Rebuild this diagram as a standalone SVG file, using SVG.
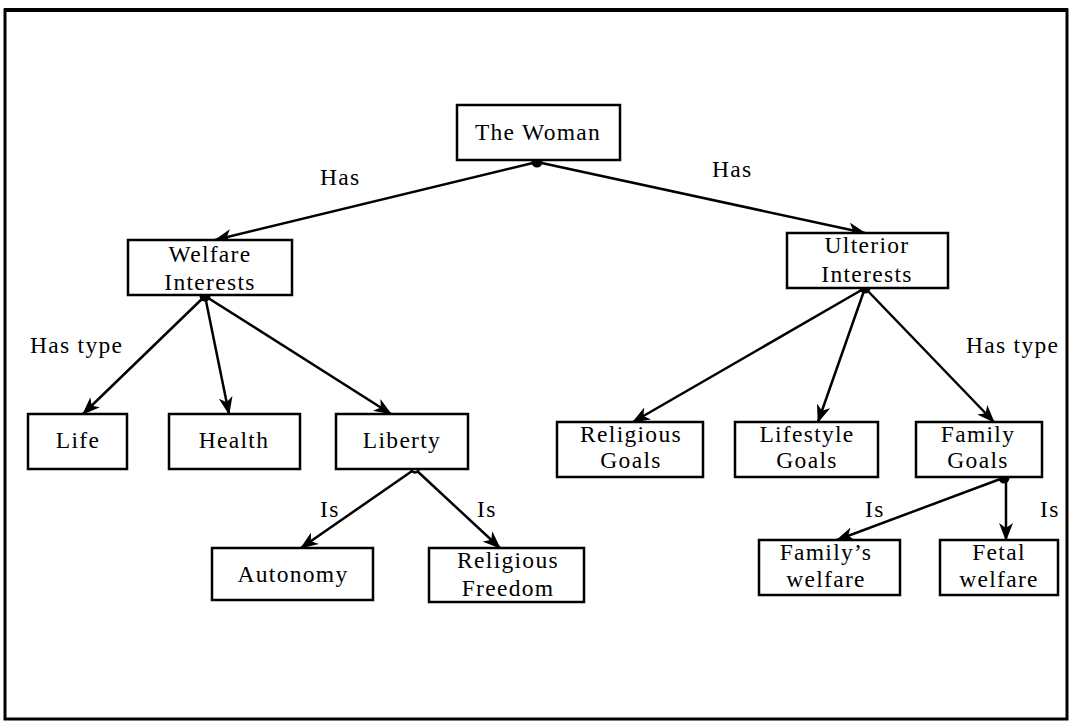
<svg xmlns="http://www.w3.org/2000/svg" width="1071" height="721" viewBox="0 0 1071 721">
<defs>
<style>
.box{fill:#fff;stroke:#000;stroke-width:2.5}
.t{font-family:"Liberation Serif","Times New Roman",serif;font-size:23.5px;letter-spacing:1.3px;fill:#000;text-anchor:middle}
.lbl{font-family:"Liberation Serif","Times New Roman",serif;font-size:23.5px;letter-spacing:1.3px;fill:#000}
.edge{stroke:#000;stroke-width:2.5;fill:none;marker-end:url(#arr)}
.dot{fill:#000}
</style>
<marker id="arr" viewBox="0 0 18 14" refX="17" refY="7" markerWidth="18" markerHeight="14" markerUnits="userSpaceOnUse" orient="auto">
<path d="M0,0 L18,7 L0,14 L5,7 Z" fill="#000"/>
</marker>
</defs>
<rect width="1071" height="721" fill="#fff"/>
<rect x="5" y="10" width="1062" height="709" fill="none" stroke="#000" stroke-width="3"/>
<line x1="4" y1="10" x2="1068" y2="10" stroke="#000" stroke-width="4"/>

<g id="connectors">
<line class="edge" x1="537" y1="162" x2="215" y2="240"/>
<line class="edge" x1="537" y1="162" x2="865" y2="233"/>
<line class="edge" x1="205" y1="296" x2="83" y2="414"/>
<line class="edge" x1="205" y1="296" x2="229" y2="414"/>
<line class="edge" x1="205" y1="296" x2="391" y2="414"/>
<line class="edge" x1="415" y1="469" x2="301" y2="548"/>
<line class="edge" x1="415" y1="469" x2="500" y2="548"/>
<line class="edge" x1="865" y1="288" x2="633" y2="422"/>
<line class="edge" x1="865" y1="288" x2="818" y2="422"/>
<line class="edge" x1="865" y1="288" x2="994" y2="422"/>
<line class="edge" x1="1003" y1="478" x2="837" y2="540"/>
<line class="edge" x1="1006" y1="478" x2="1006" y2="540"/>
<circle class="dot" cx="537" cy="162" r="5.5"/>
<circle class="dot" cx="205" cy="296" r="5.5"/>
<circle class="dot" cx="865" cy="288" r="5.5"/>
<circle cx="415" cy="469" r="3.5" fill="#fff" stroke="#000" stroke-width="2.5"/>
<circle class="dot" cx="1004" cy="478" r="5.5"/>
<text class="lbl" x="320" y="185">Has</text>
<text class="lbl" x="712" y="177">Has</text>
<text class="lbl" x="30" y="353">Has type</text>
<text class="lbl" x="966" y="353">Has type</text>
<text class="lbl" x="320" y="517">Is</text>
<text class="lbl" x="477" y="517">Is</text>
<text class="lbl" x="865" y="517">Is</text>
<text class="lbl" x="1040" y="517">Is</text>
</g>

<g id="the-woman"><rect class="box" x="457" y="105" width="163" height="55"/><text class="t" x="538" y="140">The Woman</text></g>
<g id="welfare-interests"><rect class="box" x="128" y="240" width="164" height="55"/><text class="t" x="210" y="262">Welfare</text><text class="t" x="210" y="290">Interests</text></g>
<g id="ulterior-interests"><rect class="box" x="787" y="233" width="161" height="55"/><text class="t" x="867" y="253">Ulterior</text><text class="t" x="867" y="282">Interests</text></g>
<g id="life"><rect class="box" x="28" y="414" width="99" height="55"/><text class="t" x="78" y="448">Life</text></g>
<g id="health"><rect class="box" x="169" y="414" width="131" height="55"/><text class="t" x="234" y="448">Health</text></g>
<g id="liberty"><rect class="box" x="336" y="414" width="132" height="55"/><text class="t" x="402" y="448">Liberty</text></g>
<g id="autonomy"><rect class="box" x="212" y="548" width="161" height="52"/><text class="t" x="293" y="582">Autonomy</text></g>
<g id="religious-freedom"><rect class="box" x="429" y="548" width="155" height="54"/><text class="t" x="508" y="568">Religious</text><text class="t" x="508" y="596">Freedom</text></g>
<g id="religious-goals"><rect class="box" x="557" y="422" width="146" height="55"/><text class="t" x="631" y="442">Religious</text><text class="t" x="631" y="468">Goals</text></g>
<g id="lifestyle-goals"><rect class="box" x="735" y="422" width="143" height="55"/><text class="t" x="807" y="442">Lifestyle</text><text class="t" x="807" y="468">Goals</text></g>
<g id="family-goals"><rect class="box" x="916" y="422" width="126" height="55"/><text class="t" x="978" y="442">Family</text><text class="t" x="978" y="468">Goals</text></g>
<g id="familys-welfare"><rect class="box" x="759" y="540" width="141" height="55"/><text class="t" x="826" y="560">Family’s</text><text class="t" x="826" y="587">welfare</text></g>
<g id="fetal-welfare"><rect class="box" x="940" y="540" width="118" height="55"/><text class="t" x="999" y="560">Fetal</text><text class="t" x="999" y="587">welfare</text></g>
</svg>
